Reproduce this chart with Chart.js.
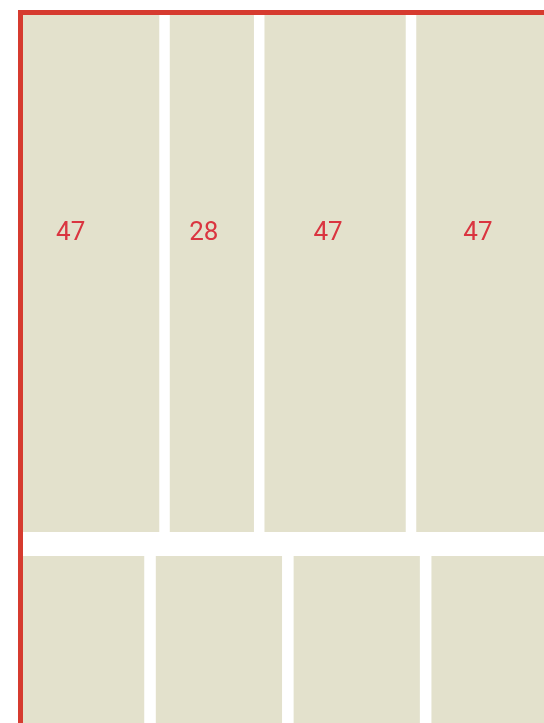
<!DOCTYPE html>
<html>
<head>
<meta charset="utf-8">
<script src="https://cdn.jsdelivr.net/npm/chart.js@4/dist/chart.umd.min.js"></script>
<style>
  html, body { margin: 0; padding: 0; background: #fff; overflow: hidden; }
  #wrap { position: relative; width: 544px; height: 1078px; }
</style>
</head>
<body>
<div id="wrap"><canvas id="myChart"></canvas></div>
<script>
// Two rows of blocks
const rows = ['row 1', 'row 2'];
const topValues = [47, 28, 47, 47];
const bottomValues = [42, 42, 42, 42];

// styling
const fill = '#e3e1cc';
const red = '#d63b2f';
const labelRed = '#da3540';
const topGap = 3.5;      // gap between blocks, in value units
const bottomGap = 3.85;
const labelShift = [-18, -8, -7, -9];

// floating [start, end] ranges built from the values
function ranges(values, gap) {
  let pos = 0;
  return values.map(v => {
    const r = [pos, pos + v];
    pos += v + gap;
    return r;
  });
}
const topRanges = ranges(topValues, topGap);
const bottomRanges = ranges(bottomValues, bottomGap);

const datasets = topValues.map((v, i) => ({
  label: 'block ' + (i + 1),
  data: [topRanges[i], bottomRanges[i]],
  backgroundColor: fill,
  borderWidth: 0,
  grouped: false,
  categoryPercentage: 1,
  barPercentage: 0.9775,
  clip: 0
}));

// red frame on the left and top edge of the plot
const framePlugin = {
  id: 'frame',
  afterDatasetsDraw(chart) {
    const { ctx, chartArea: a } = chart;
    ctx.save();
    ctx.fillStyle = red;
    ctx.fillRect(a.left, a.top, 5, a.bottom - a.top);
    ctx.fillRect(a.left, a.top, a.right - a.left, 5);
    ctx.restore();
  }
};

// value labels on the top row
const labelPlugin = {
  id: 'labels',
  afterDatasetsDraw(chart) {
    const { ctx } = chart;
    ctx.save();
    ctx.font = '26px Roboto';
    ctx.fillStyle = labelRed;
    ctx.textAlign = 'center';
    ctx.textBaseline = 'alphabetic';
    topValues.forEach((v, i) => {
      const bar = chart.getDatasetMeta(i).data[0];
      const { x, base } = bar.getProps(['x', 'base'], true);
      ctx.fillText(String(v), (x + base) / 2 + labelShift[i], 240);
    });
    ctx.restore();
  }
};

const ctx = document.getElementById('myChart').getContext('2d');
const myChart = new Chart(ctx, {
  type: 'bar',
  data: { labels: rows, datasets: datasets },
  options: {
    indexAxis: 'y',
    responsive: true,
    maintainAspectRatio: false,
    devicePixelRatio: 1,
    animation: false,
    layout: { padding: { left: 18, top: 10, right: 0, bottom: 0 } },
    scales: {
      x: { type: 'linear', min: 0, max: 175, display: false },
      y: { type: 'category', offset: false, display: false }
    },
    plugins: {
      legend: { display: false },
      tooltip: { enabled: false }
    }
  },
  plugins: [framePlugin, labelPlugin]
});
</script>
</body>
</html>
